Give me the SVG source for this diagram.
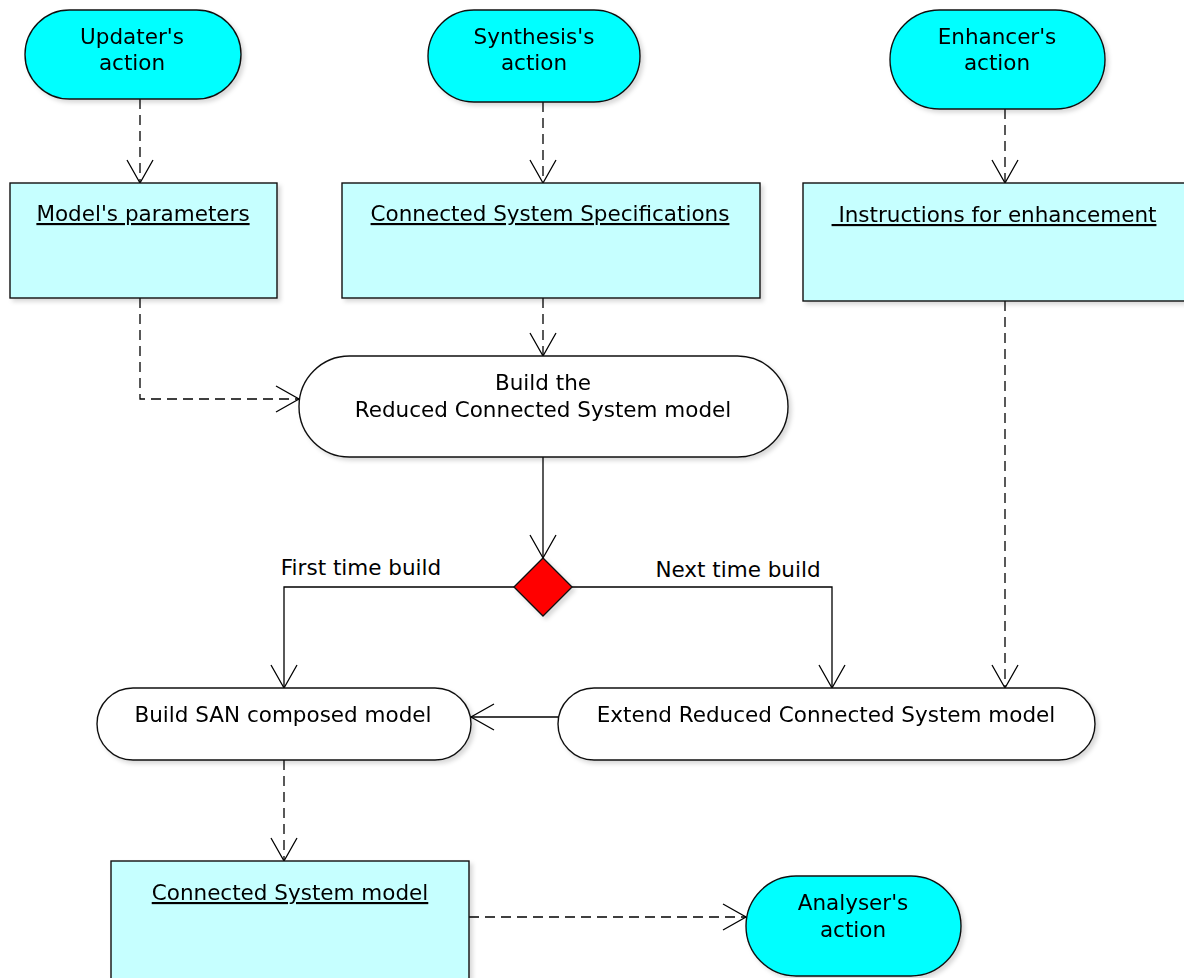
<svg xmlns="http://www.w3.org/2000/svg" width="1184" height="978" viewBox="0 0 1184 978">
<style>
text{font-family:"DejaVu Sans","Liberation Sans",sans-serif;font-size:21.5px;fill:#000;text-anchor:middle}
.u{text-decoration:underline}
.actor{fill:#00ffff;stroke:#111;stroke-width:1.4}
.obj{fill:#c6ffff;stroke:#111;stroke-width:1.4}
.act{fill:#fff;stroke:#111;stroke-width:1.4}
.c{fill:none;stroke:#000;stroke-width:1.3}
.d{stroke-dasharray:10,6}
</style>
<defs>
<filter id="sh" x="-10%" y="-10%" width="130%" height="130%">
<feDropShadow dx="3" dy="3" stdDeviation="2" flood-color="#000" flood-opacity="0.15"/>
</filter>
<marker id="ah" markerUnits="userSpaceOnUse" markerWidth="30" markerHeight="30" viewBox="-25 -15 30 30" refX="0" refY="0" orient="auto">
<path d="M-23,-13 L0,0 L-23,13" fill="none" stroke="#000" stroke-width="1.3"/>
</marker>
</defs>
<g id="connectors">
<path class="c d" d="M140,99 V183" marker-end="url(#ah)"/>
<path class="c d" d="M543,102 V183" marker-end="url(#ah)"/>
<path class="c d" d="M1005,109 V183" marker-end="url(#ah)"/>
<path class="c d" d="M140,298 V399 H299" marker-end="url(#ah)"/>
<path class="c d" d="M543,298 V356" marker-end="url(#ah)"/>
<path class="c" d="M543,457 V558" marker-end="url(#ah)"/>
<path class="c" d="M514,587 H284 V688" marker-end="url(#ah)"/>
<path class="c" d="M572,587 H832 V688" marker-end="url(#ah)"/>
<path class="c d" d="M1005,301 V688" marker-end="url(#ah)"/>
<path class="c" d="M558,717 H471" marker-end="url(#ah)"/>
<path class="c d" d="M284,760 V861" marker-end="url(#ah)"/>
<path class="c d" d="M469,917 H746" marker-end="url(#ah)"/>
<text x="361" y="575">First time build</text>
<text x="738" y="577">Next time build</text>
</g>
<g id="updater" filter="url(#sh)">
<rect class="actor" x="25" y="10" width="216" height="89" rx="44.5"/>
<text x="132" y="44">Updater's</text>
<text x="132" y="70">action</text>
</g>
<g id="synthesis" filter="url(#sh)">
<rect class="actor" x="428" y="10" width="212" height="92" rx="46"/>
<text x="534" y="44">Synthesis's</text>
<text x="534" y="70">action</text>
</g>
<g id="enhancer" filter="url(#sh)">
<rect class="actor" x="890" y="10" width="215" height="99" rx="49.5"/>
<text x="997" y="44">Enhancer's</text>
<text x="997" y="70">action</text>
</g>
<g id="params" filter="url(#sh)">
<rect class="obj" x="10" y="183" width="267" height="115"/>
<text class="u" x="143" y="221">Model's parameters</text>
</g>
<g id="specs" filter="url(#sh)">
<rect class="obj" x="342" y="183" width="418" height="115"/>
<text class="u" x="550" y="221">Connected System Specifications</text>
</g>
<g id="instructions" filter="url(#sh)">
<rect class="obj" x="803" y="183" width="390" height="118"/>
<text class="u" x="994" y="222" xml:space="preserve"> Instructions for enhancement</text>
</g>
<g id="buildRCS" filter="url(#sh)">
<rect class="act" x="299" y="356" width="489" height="101" rx="50.5"/>
<text x="543" y="390">Build the</text>
<text x="543" y="417">Reduced Connected System model</text>
</g>
<g id="decision" filter="url(#sh)">
<path d="M543,558 L572,587 L543,616 L514,587 Z" fill="#ff0000" stroke="#111" stroke-width="1.4"/>
</g>
<g id="buildSAN" filter="url(#sh)">
<rect class="act" x="97" y="688" width="374" height="72" rx="36"/>
<text x="283" y="722">Build SAN composed model</text>
</g>
<g id="extend" filter="url(#sh)">
<rect class="act" x="558" y="688" width="537" height="72" rx="36"/>
<text x="826" y="722">Extend Reduced Connected System model</text>
</g>
<g id="csmodel" filter="url(#sh)">
<rect class="obj" x="111" y="861" width="358" height="130"/>
<text class="u" x="290" y="900">Connected System model</text>
</g>
<g id="analyser" filter="url(#sh)">
<rect class="actor" x="746" y="876" width="215" height="100" rx="50"/>
<text x="853" y="910">Analyser's</text>
<text x="853" y="937">action</text>
</g>
</svg>
